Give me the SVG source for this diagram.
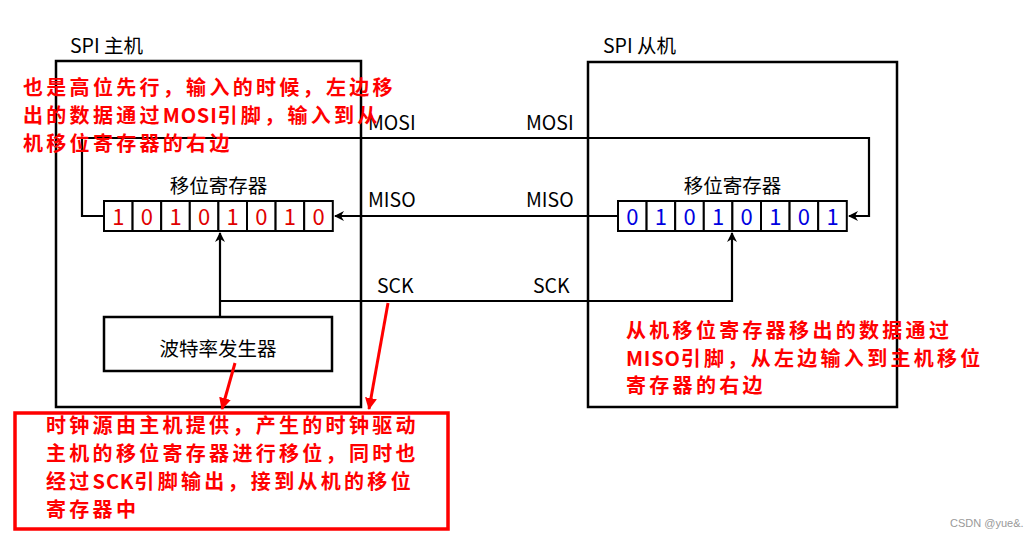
<svg xmlns="http://www.w3.org/2000/svg" width="1033" height="537" viewBox="0 0 1033 537">
<style>
.box{fill:none;stroke:#000;stroke-width:2.5}
.cell{fill:#fff;stroke:#000;stroke-width:2}
.w{stroke:#000;stroke-width:2.2;fill:none}
.lbl{font-family:"Noto Sans CJK SC","Noto Sans",sans-serif;font-size:19.5px;fill:#000}
.dr{font-family:"Noto Sans CJK SC","Noto Sans",sans-serif;font-size:22px;fill:#e00000;text-anchor:middle}
.db{font-family:"Noto Sans CJK SC","Noto Sans",sans-serif;font-size:22px;fill:#0000e0;text-anchor:middle}
.note{font-family:"Noto Sans CJK SC","Noto Sans",sans-serif;font-size:20px;font-weight:bold;fill:#ff0000;letter-spacing:3.3px}
.lat{letter-spacing:0.8px}
.red{stroke:#ff0000;stroke-width:3;fill:none}
</style>
<defs>
<marker id="ah" markerWidth="10" markerHeight="10" refX="9" refY="5" orient="auto" markerUnits="userSpaceOnUse">
<path d="M0,0 L10,5 L0,10 L3,5 Z" fill="#000"/>
</marker>
<marker id="rh" markerWidth="12" markerHeight="12" refX="11" refY="6" orient="auto" markerUnits="userSpaceOnUse">
<path d="M0,0 L12,6 L0,12 Z" fill="#ff0000"/>
</marker>
</defs>
<rect width="1033" height="537" fill="#fff"/>

<g id="master">
<rect class="box" x="56" y="61" width="305" height="346"/>
<text class="lbl" x="70" y="53">SPI 主机</text>
</g>
<g id="slave">
<rect class="box" x="588" y="62" width="309" height="345"/>
<text class="lbl" x="603" y="53">SPI 从机</text>
</g>

<g id="connectors">
<path class="w" d="M104,216 H82 V138 H869 V216 H849" marker-end="url(#ah)"/>
<path class="w" d="M618,216 H335" marker-end="url(#ah)"/>
<path class="w" d="M220,317 V233" marker-end="url(#ah)"/>
<path class="w" d="M220,301 H732 V233" marker-end="url(#ah)"/>
<text class="lbl" x="368" y="130">MOSI</text>
<text class="lbl" x="526" y="130">MOSI</text>
<text class="lbl" x="368" y="207">MISO</text>
<text class="lbl" x="526" y="207">MISO</text>
<text class="lbl" x="377" y="293">SCK</text>
<text class="lbl" x="533" y="293">SCK</text>
</g>

<g id="master-reg">
<text class="lbl" x="218.5" y="193" text-anchor="middle">移位寄存器</text>
<rect class="cell" x="104" y="201" width="28.6" height="30"/>
<rect class="cell" x="132.6" y="201" width="28.6" height="30"/>
<rect class="cell" x="161.2" y="201" width="28.6" height="30"/>
<rect class="cell" x="189.8" y="201" width="28.6" height="30"/>
<rect class="cell" x="218.4" y="201" width="28.6" height="30"/>
<rect class="cell" x="247" y="201" width="28.6" height="30"/>
<rect class="cell" x="275.6" y="201" width="28.6" height="30"/>
<rect class="cell" x="304.2" y="201" width="28.6" height="30"/>
<text class="dr" x="118.3" y="224.5">1</text>
<text class="dr" x="146.9" y="224.5">0</text>
<text class="dr" x="175.5" y="224.5">1</text>
<text class="dr" x="204.1" y="224.5">0</text>
<text class="dr" x="232.7" y="224.5">1</text>
<text class="dr" x="261.3" y="224.5">0</text>
<text class="dr" x="289.9" y="224.5">1</text>
<text class="dr" x="318.5" y="224.5">0</text>
</g>

<g id="slave-reg">
<text class="lbl" x="732.5" y="193" text-anchor="middle">移位寄存器</text>
<rect class="cell" x="618" y="201" width="28.6" height="30"/>
<rect class="cell" x="646.6" y="201" width="28.6" height="30"/>
<rect class="cell" x="675.2" y="201" width="28.6" height="30"/>
<rect class="cell" x="703.8" y="201" width="28.6" height="30"/>
<rect class="cell" x="732.4" y="201" width="28.6" height="30"/>
<rect class="cell" x="761" y="201" width="28.6" height="30"/>
<rect class="cell" x="789.6" y="201" width="28.6" height="30"/>
<rect class="cell" x="818.2" y="201" width="28.6" height="30"/>
<text class="db" x="632.3" y="224.5">0</text>
<text class="db" x="660.9" y="224.5">1</text>
<text class="db" x="689.5" y="224.5">0</text>
<text class="db" x="718.1" y="224.5">1</text>
<text class="db" x="746.7" y="224.5">0</text>
<text class="db" x="775.3" y="224.5">1</text>
<text class="db" x="803.9" y="224.5">0</text>
<text class="db" x="832.5" y="224.5">1</text>
</g>

<g id="baud-gen">
<rect class="box" x="104" y="317" width="228" height="54" fill="#fff"/>
<text class="lbl" x="218" y="356" text-anchor="middle">波特率发生器</text>
</g>

<g id="note-top">
<text class="note" x="23" y="95">也是高位先行，输入的时候，左边移</text>
<text class="note" x="23" y="123">出的数据通过<tspan class="lat">MOSI</tspan>引脚，输入到从</text>
<text class="note" x="23" y="151">机移位寄存器的右边</text>
</g>

<g id="note-right">
<text class="note" x="626" y="338">从机移位寄存器移出的数据通过</text>
<text class="note" x="626" y="366"><tspan class="lat">MISO</tspan>引脚，从左边输入到主机移位</text>
<text class="note" x="626" y="393">寄存器的右边</text>
</g>

<g id="red-arrows">
<path class="red" d="M235,363 L222,409" marker-end="url(#rh)"/>
<path class="red" d="M388,303 L369,409" marker-end="url(#rh)"/>
</g>

<g id="note-bottom">
<rect x="15" y="413" width="433" height="116" fill="none" stroke="#ff0000" stroke-width="3.5"/>
<text class="note" x="46" y="433">时钟源由主机提供，产生的时钟驱动</text>
<text class="note" x="46" y="461">主机的移位寄存器进行移位，同时也</text>
<text class="note" x="46" y="489">经过<tspan class="lat">SCK</tspan>引脚输出，接到从机的移位</text>
<text class="note" x="46" y="517">寄存器中</text>
</g>

<text x="950" y="527" font-family="Liberation Sans,sans-serif" font-size="11" fill="#999">CSDN @yue&amp;.</text>
</svg>
